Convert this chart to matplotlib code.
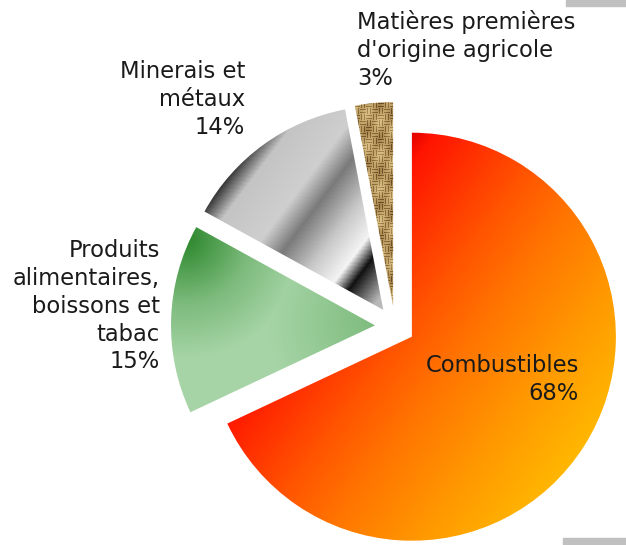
import numpy as np
import matplotlib.pyplot as plt
from matplotlib.colors import LinearSegmentedColormap
from matplotlib.patches import Rectangle

# Import shares by product group (%)
labels = ["Combustibles", "Produits\nalimentaires,\nboissons et\ntabac",
          "Minerais et\nmétaux", "Matières premières\nd'origine agricole"]
shares = [68, 15, 14, 3]
pct = ["68%", "15%", "14%", "3%"]

W, H = 626, 545
fig = plt.figure(figsize=(W / 100, H / 100), dpi=100)
ax = fig.add_axes([0, 0, 1, 1])

# explode is given in data units here (radius is in pixels)
wedges, _ = ax.pie(shares, radius=204, center=(395, H - 326), startangle=90,
                   counterclock=False, explode=[20] * 4,
                   wedgeprops=dict(facecolor="none", edgecolor="none"))
ax.set_xlim(0, W)
ax.set_ylim(0, H)
ax.set_aspect("equal")
ax.axis("off")

# pixel grid (y downwards) used for all the fills
X, Y = np.meshgrid(np.arange(W) + 0.5, np.arange(H) + 0.5)


def cmap(name, stops):
    return LinearSegmentedColormap.from_list(name, stops)


def paint(rgb, wedge):
    im = ax.imshow(rgb, extent=(0, W, 0, H), origin="upper",
                   interpolation="bilinear", zorder=2)
    im.set_clip_path(wedge)


# fuel: red -> orange -> gold diagonal
t = ((X - 412) * 0.8 + (Y - 130) * 0.6) / 400
fire = cmap("fire", [(0, "#e00000"), (0.05, "#ff1400"), (0.29, "#ff5400"),
                     (0.43, "#ff7400"), (0.64, "#ff9a00"), (0.9, "#ffc400"),
                     (1, "#ffd000")])
paint(fire(np.clip(t, 0, 1)), wedges[0])

# food: dark green corner fading to pale green, a little darker at the tip
d1 = np.clip(1 - np.hypot(X - 185, Y - 238) / 120, 0, 1)
d2 = np.clip(1 - np.hypot(X - 378, Y - 322) / 110, 0, 1) * 0.45
green = cmap("green", [(0, "#a6d4a6"), (0.45, "#7dbb7d"), (1, "#2a862a")])
paint(green(np.maximum(d1, d2)), wedges[1])

# metals: brushed steel bands
s = (X - 200) * 0.8 + (Y - 205) * 0.6
steel = cmap("steel", [(0, "#101010"), (0.13, "#c4c4c4"), (0.35, "#cfcfcf"),
                       (0.47, "#7a7a7a"), (0.63, "#c8c8c8"), (0.77, "#f4f4f4"),
                       (0.85, "#101010"), (1, "#b8b8b8")])
paint(steel(np.clip(s / 200, 0, 1)), wedges[2])

# agricultural raw materials: burlap weave
p = 6
blk = (np.floor(X / p) + np.floor(Y / p)) % 2
horiz = 0.5 + 0.5 * np.cos(2 * np.pi * Y / 3)
vert = 0.5 + 0.5 * np.cos(2 * np.pi * X / 3)
weave = np.where(blk == 0, horiz, vert)
mottle = 0.5 + 0.5 * np.sin(X / 4.1) * np.cos(Y / 5.3 + X / 7.7)
weave = 0.55 * weave + 0.45 * mottle
burlap = cmap("burlap", [(0, "#664620"), (0.45, "#ad8c52"), (1, "#e6d096")])
paint(burlap(weave), wedges[3])

txt = dict(fontsize=16.3, color="#1a1a1a", linespacing=1.27, va="top", zorder=5)
ax.text(357, H - 10, labels[3] + "\n" + pct[3], ha="left", **txt)
ax.text(245, H - 60, labels[2] + "\n" + pct[2], ha="right", **txt)
ax.text(160, H - 239, labels[1] + "\n" + pct[1], ha="right", **txt)
ax.text(579, H - 354, labels[0] + "\n" + pct[0], ha="right", **txt)

# grey corner bars
ax.add_patch(Rectangle((566, H - 6), 60, 6, color="#c0c0c0", zorder=3))
ax.add_patch(Rectangle((563, 0), 63, 7, color="#c0c0c0", zorder=3))

fig.savefig("out.png", dpi=100)
